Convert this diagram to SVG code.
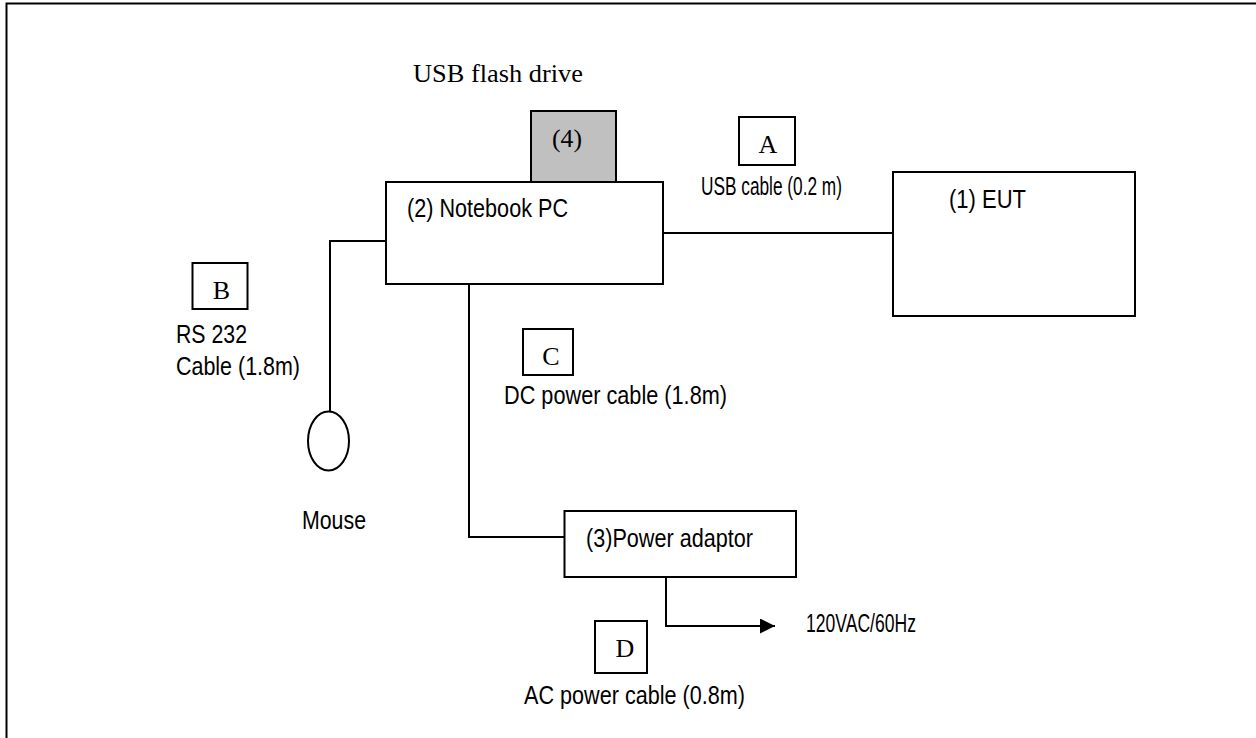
<svg xmlns="http://www.w3.org/2000/svg" width="1256" height="738" viewBox="0 0 1256 738">
<defs>
<style>
.box{fill:#fff;stroke:#000;stroke-width:2}
.ln{fill:none;stroke:#000;stroke-width:2}
.sans{font-family:"Liberation Sans",Arial,sans-serif;font-size:25px;fill:#000}
.serif{font-family:"Liberation Serif","Times New Roman",serif;font-size:26px;fill:#000}
</style>
<marker id="arr" viewBox="0 0 15 15" refX="15" refY="7.5" markerWidth="15" markerHeight="15" markerUnits="userSpaceOnUse" orient="auto">
<path d="M0,0 L15,7.5 L0,15 Z" fill="#000"/>
</marker>
</defs>
<rect width="1256" height="738" fill="#fff"/>
<path class="ln" d="M6.5,738 V3.5 H1256"/>

<g id="connectors">
<path class="ln" d="M386,241 H330 V411.5"/>
<path class="ln" d="M663,233 H893"/>
<path class="ln" d="M469,284 V537 H564"/>
<path class="ln" d="M666,577 V626 H775" marker-end="url(#arr)"/>
</g>

<g id="eut">
<rect class="box" x="893" y="172" width="242" height="144"/>
<text class="sans" x="949" y="208" font-size="23" textLength="77" lengthAdjust="spacingAndGlyphs">(1) EUT</text>
</g>

<g id="notebook">
<rect class="box" x="386" y="182" width="277" height="102"/>
<text class="sans" x="407" y="217" textLength="161" lengthAdjust="spacingAndGlyphs">(2) Notebook PC</text>
</g>

<g id="flash">
<rect x="531" y="111" width="85" height="71" fill="#c0c0c0" stroke="#000" stroke-width="2"/>
<text class="serif" x="552" y="147" textLength="30" lengthAdjust="spacingAndGlyphs">(4)</text>
<text class="serif" x="413" y="82" textLength="170" lengthAdjust="spacingAndGlyphs">USB flash drive</text>
</g>

<g id="adaptor">
<rect class="box" x="564.5" y="511" width="231.5" height="66"/>
<text class="sans" x="586" y="547" textLength="167" lengthAdjust="spacingAndGlyphs">(3)Power adaptor</text>
</g>

<g id="mouse">
<ellipse class="box" cx="328.5" cy="441" rx="20.5" ry="29.5"/>
<text class="sans" x="302" y="529" textLength="64" lengthAdjust="spacingAndGlyphs">Mouse</text>
</g>

<g id="labelA">
<rect class="box" x="739" y="117" width="56" height="48"/>
<text class="serif" x="768" y="153" text-anchor="middle">A</text>
<text class="sans" x="701" y="195" font-size="20" textLength="141" lengthAdjust="spacingAndGlyphs">USB cable (0.2 m)</text>
</g>

<g id="labelB">
<rect class="box" x="192.5" y="263" width="55" height="46"/>
<text class="serif" x="221.5" y="299" text-anchor="middle">B</text>
<text class="sans" x="176" y="343" textLength="71" lengthAdjust="spacingAndGlyphs">RS 232</text>
<text class="sans" x="176" y="375" textLength="124" lengthAdjust="spacingAndGlyphs">Cable (1.8m)</text>
</g>

<g id="labelC">
<rect class="box" x="523" y="329" width="50" height="46"/>
<text class="serif" x="551" y="365" text-anchor="middle">C</text>
<text class="sans" x="504" y="404" textLength="223" lengthAdjust="spacingAndGlyphs">DC power cable (1.8m)</text>
</g>

<g id="labelD">
<rect class="box" x="595" y="621" width="52" height="52"/>
<text class="serif" x="625" y="657" text-anchor="middle">D</text>
<text class="sans" x="524" y="704" textLength="221" lengthAdjust="spacingAndGlyphs">AC power cable (0.8m)</text>
<text class="sans" x="806" y="632" font-size="20" textLength="110" lengthAdjust="spacingAndGlyphs">120VAC/60Hz</text>
</g>
</svg>
